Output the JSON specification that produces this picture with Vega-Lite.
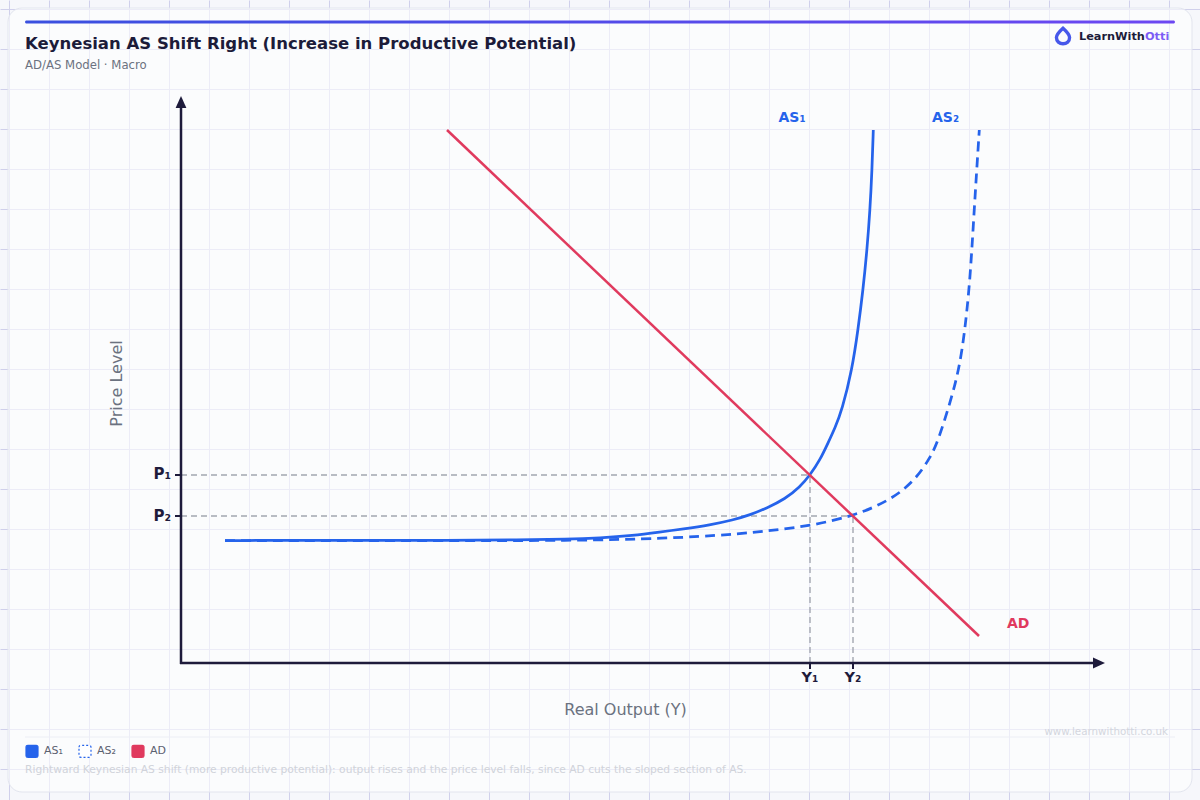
{
  "$schema": "https://vega.github.io/schema/vega-lite/v6.json",
  "width": 1200,
  "height": 800,
  "autosize": {"type": "none"},
  "padding": 0,
  "background": "#f6f7fb",
  "config": {
    "font": "DejaVu Sans",
    "view": {"stroke": null}
  },
  "encoding": {
    "x": {
      "field": "x",
      "type": "quantitative",
      "scale": {"domain": [-18.1, 101.9], "nice": false, "zero": false},
      "axis": {
        "values": [-17.2, -13.2, -9.2, -5.2, -1.2, 2.8, 6.8, 10.8, 14.8, 18.8, 22.8, 26.8, 30.8, 34.8, 38.8, 42.8, 46.8, 50.8, 54.8, 58.8, 62.8, 66.8, 70.8, 74.8, 78.8, 82.8, 86.8, 90.8, 94.8, 98.8],
        "grid": true, "gridColor": "#d0d0eb", "gridWidth": 1,
        "domain": false, "ticks": false, "labels": false, "title": null, "zindex": 0
      }
    },
    "y": {
      "field": "y",
      "type": "quantitative",
      "scale": {"domain": [-13.7, 66.3], "nice": false, "zero": false},
      "axis": {
        "values": [65.4, 61.4, 57.4, 53.4, 49.4, 45.4, 41.4, 37.4, 33.4, 29.4, 25.4, 21.4, 17.4, 13.4, 9.4, 5.4, 1.4, -2.6, -6.6, -10.6],
        "grid": true, "gridColor": "#d0d0eb", "gridWidth": 1,
        "domain": false, "ticks": false, "labels": false, "title": null, "zindex": 0
      }
    }
  },
  "layer": [
    {
      "data": {"values": [{"x": -17.3, "x2": 101.1, "y": 65.5, "y2": -12.9}]},
      "mark": {"type": "rect", "fill": "#ffffff", "fillOpacity": 0.6, "stroke": "#e2e5ee", "strokeWidth": 1, "cornerRadius": 14},
      "encoding": {"x2": {"field": "x2"}, "y2": {"field": "y2"}}
    },
    {
      "data": {"values": [{"x": -15.6, "x2": 99.4, "y": 64.25, "y2": 63.95}]},
      "mark": {
        "type": "rect",
        "cornerRadius": 1.5,
        "fill": {
          "gradient": "linear", "x1": 0, "y1": 0, "x2": 1, "y2": 0,
          "stops": [{"offset": 0, "color": "#3a50df"}, {"offset": 1, "color": "#6c47f2"}]
        }
      },
      "encoding": {"x2": {"field": "x2"}, "y2": {"field": "y2"}}
    },
    {
      "data": {"values": [{"x": -15.6, "x2": 99.4, "y": -7.4}]},
      "mark": {"type": "rule", "stroke": "#eceef5", "strokeWidth": 1},
      "encoding": {"x2": {"field": "x2"}}
    },
    {
      "data": {"values": [
        {"x": 0, "x2": 62.9, "y": 18.8, "y2": 18.8},
        {"x": 62.9, "x2": 62.9, "y": 0, "y2": 18.8},
        {"x": 0, "x2": 67.2, "y": 14.7, "y2": 14.7},
        {"x": 67.2, "x2": 67.2, "y": 0, "y2": 14.7}
      ]},
      "mark": {"type": "rule", "stroke": "#a3a7b0", "strokeWidth": 1.4, "strokeDash": [6, 4]},
      "encoding": {"x2": {"field": "x2"}, "y2": {"field": "y2"}}
    },
    {
      "data": {"values": [
        {"x": -0.1, "x2": 91.6, "y": 0, "y2": 0},
        {"x": 0, "x2": 0, "y": -0.1, "y2": 55.9}
      ]},
      "mark": {"type": "rule", "stroke": "#1e1b3b", "strokeWidth": 2.5},
      "encoding": {"x2": {"field": "x2"}, "y2": {"field": "y2"}}
    },
    {
      "data": {"values": [
        {"x": -0.6, "x2": 0, "y": 18.8, "y2": 18.8},
        {"x": -0.6, "x2": 0, "y": 14.7, "y2": 14.7},
        {"x": 62.9, "x2": 62.9, "y": 0, "y2": -0.6},
        {"x": 67.2, "x2": 67.2, "y": 0, "y2": -0.6}
      ]},
      "mark": {"type": "rule", "stroke": "#1e1b3b", "strokeWidth": 2},
      "encoding": {"x2": {"field": "x2"}, "y2": {"field": "y2"}}
    },
    {
      "data": {"values": [{"x": 91.8, "y": 0}]},
      "mark": {"type": "point", "shape": "M1,0L-1,-0.9L-1,0.9Z", "size": 144, "filled": true, "fill": "#1e1b3b", "opacity": 1}
    },
    {
      "data": {"values": [{"x": 0, "y": 56.1}]},
      "mark": {"type": "point", "shape": "M0,-1L0.9,1L-0.9,1Z", "size": 144, "filled": true, "fill": "#1e1b3b", "opacity": 1}
    },
    {
      "data": {"values": [
        {"series": "AS₂", "x": 4.4, "y": 12.25},
        {"series": "AS₂", "x": 26.9, "y": 12.24},
        {"series": "AS₂", "x": 38.6, "y": 12.23},
        {"series": "AS₂", "x": 48.6, "y": 12.45},
        {"series": "AS₂", "x": 55.2, "y": 12.85},
        {"series": "AS₂", "x": 58.6, "y": 13.2},
        {"series": "AS₂", "x": 62.9, "y": 13.7},
        {"series": "AS₂", "x": 67.2, "y": 14.7},
        {"series": "AS₂", "x": 70.6, "y": 16.1},
        {"series": "AS₂", "x": 73.2, "y": 18.0},
        {"series": "AS₂", "x": 75.0, "y": 20.6},
        {"series": "AS₂", "x": 75.8, "y": 22.5},
        {"series": "AS₂", "x": 76.9, "y": 26.0},
        {"series": "AS₂", "x": 77.8, "y": 29.3},
        {"series": "AS₂", "x": 78.4, "y": 33.3},
        {"series": "AS₂", "x": 78.9, "y": 38.3},
        {"series": "AS₂", "x": 79.22, "y": 43.6},
        {"series": "AS₂", "x": 79.57, "y": 49.3},
        {"series": "AS₂", "x": 79.83, "y": 53.3}
      ]},
      "mark": {"type": "line", "strokeWidth": 2.75, "strokeDash": [10, 6], "interpolate": "basis"},
      "encoding": {"color": {"field": "series", "type": "nominal"}}
    },
    {
      "data": {"values": [
        {"series": "AS₁", "x": 4.4, "y": 12.25},
        {"series": "AS₁", "x": 16.9, "y": 12.25},
        {"series": "AS₁", "x": 26.9, "y": 12.27},
        {"series": "AS₁", "x": 33.9, "y": 12.32},
        {"series": "AS₁", "x": 38.6, "y": 12.37},
        {"series": "AS₁", "x": 41.9, "y": 12.5},
        {"series": "AS₁", "x": 45.2, "y": 12.75},
        {"series": "AS₁", "x": 47.9, "y": 13.1},
        {"series": "AS₁", "x": 50.2, "y": 13.4},
        {"series": "AS₁", "x": 52.9, "y": 13.8},
        {"series": "AS₁", "x": 55.2, "y": 14.3},
        {"series": "AS₁", "x": 56.9, "y": 14.8},
        {"series": "AS₁", "x": 58.6, "y": 15.5},
        {"series": "AS₁", "x": 60.4, "y": 16.4},
        {"series": "AS₁", "x": 61.9, "y": 17.6},
        {"series": "AS₁", "x": 62.9, "y": 18.8},
        {"series": "AS₁", "x": 63.9, "y": 20.3},
        {"series": "AS₁", "x": 64.7, "y": 22.0},
        {"series": "AS₁", "x": 65.4, "y": 23.5},
        {"series": "AS₁", "x": 66.1, "y": 25.3},
        {"series": "AS₁", "x": 67.1, "y": 29.3},
        {"series": "AS₁", "x": 67.7, "y": 33.3},
        {"series": "AS₁", "x": 68.2, "y": 37.3},
        {"series": "AS₁", "x": 68.6, "y": 41.3},
        {"series": "AS₁", "x": 68.9, "y": 45.3},
        {"series": "AS₁", "x": 69.1, "y": 49.3},
        {"series": "AS₁", "x": 69.23, "y": 53.3}
      ]},
      "mark": {"type": "line", "strokeWidth": 2.75, "interpolate": "basis"},
      "encoding": {"color": {"field": "series", "type": "nominal"}}
    },
    {
      "data": {"values": [
        {"series": "AD", "x": 26.6, "y": 53.3},
        {"series": "AD", "x": 79.8, "y": 2.7}
      ]},
      "mark": {"type": "line", "strokeWidth": 2.5},
      "encoding": {
        "color": {
          "field": "series",
          "type": "nominal",
          "scale": {"domain": ["AS₁", "AS₂", "AD"], "range": ["#2563eb", "#2563eb", "#e03a5e"]},
          "legend": {
            "orient": "none",
            "legendX": 25,
            "legendY": 744,
            "direction": "horizontal",
            "title": null,
            "symbolType": "M-1,-0.67Q-1,-1,-0.67,-1L0.67,-1Q1,-1,1,-0.67L1,0.67Q1,1,0.67,1L-0.67,1Q-1,1,-1,0.67Z",
            "symbolSize": 144,
            "labelFontSize": 11,
            "labelColor": "#5b6170",
            "labelOffset": 5,
            "columnPadding": 13,
            "encode": {
              "symbols": {
                "update": {
                  "fill": {"signal": "datum.value === 'AS₂' ? '#ffffff' : (datum.value === 'AD' ? '#e03a5e' : '#2563eb')"},
                  "fillOpacity": {"value": 1},
                  "stroke": {"signal": "datum.value === 'AS₂' ? '#2563eb' : 'transparent'"},
                  "strokeWidth": {"value": 1.2},
                  "strokeDash": {"signal": "datum.value === 'AS₂' ? [2, 2] : [1, 0]"},
                  "opacity": {"value": 1}
                }
              }
            }
          }
        }
      }
    },
    {
      "data": {"values": [{"x": 88.2, "y": 62.7}]},
      "mark": {
        "type": "point",
        "shape": "M0,-1C0.5,-0.55,0.85,-0.2,0.85,0.2C0.85,0.7,0.45,1,0,1C-0.45,1,-0.85,0.7,-0.85,0.2C-0.85,-0.2,-0.5,-0.55,0,-1Z",
        "size": 240,
        "filled": false,
        "stroke": "#4758ea",
        "strokeWidth": 3.4,
        "opacity": 1
      }
    },
    {
      "data": {"values": [{"text": "Keynesian AS Shift Right (Increase in Productive Potential)", "x": -15.6, "y": 61.4}]},
      "mark": {"type": "text", "align": "left", "baseline": "alphabetic", "fontSize": 16.5, "fontWeight": "bold", "color": "#1c1b3a"},
      "encoding": {"text": {"field": "text"}}
    },
    {
      "data": {"values": [{"text": "AD/AS Model · Macro", "x": -15.6, "y": 59.4}]},
      "mark": {"type": "text", "align": "left", "baseline": "alphabetic", "fontSize": 11.7, "color": "#6b7280"},
      "encoding": {"text": {"field": "text"}}
    },
    {
      "data": {"values": [{"text": "LearnWith", "x": 89.8, "y": 62.3}]},
      "mark": {"type": "text", "align": "left", "baseline": "alphabetic", "fontSize": 11.3, "fontWeight": "bold", "color": "#1c1b3a"},
      "encoding": {"text": {"field": "text"}}
    },
    {
      "data": {"values": [{"text": "Otti", "x": 96.4, "y": 62.3}]},
      "mark": {"type": "text", "align": "left", "baseline": "alphabetic", "fontSize": 11.3, "fontWeight": "bold", "color": "#7c5cf5"},
      "encoding": {"text": {"field": "text"}}
    },
    {
      "data": {"values": [
        {"text": "AS₁", "x": 61.1, "y": 54.1},
        {"text": "AS₂", "x": 76.45, "y": 54.1}
      ]},
      "mark": {"type": "text", "align": "center", "baseline": "alphabetic", "fontSize": 14, "fontWeight": "bold", "color": "#2563eb"},
      "encoding": {"text": {"field": "text"}}
    },
    {
      "data": {"values": [{"text": "AD", "x": 82.6, "y": 3.53}]},
      "mark": {"type": "text", "align": "left", "baseline": "alphabetic", "fontSize": 14, "fontWeight": "bold", "color": "#e03a5e"},
      "encoding": {"text": {"field": "text"}}
    },
    {
      "data": {"values": [
        {"text": "P₁", "x": -1.0, "y": 18.9},
        {"text": "P₂", "x": -1.0, "y": 14.75}
      ]},
      "mark": {"type": "text", "align": "right", "baseline": "middle", "fontSize": 15, "fontWeight": "bold", "color": "#1e1b3b"},
      "encoding": {"text": {"field": "text"}}
    },
    {
      "data": {"values": [
        {"text": "Y₁", "x": 62.9, "y": -1.5},
        {"text": "Y₂", "x": 67.2, "y": -1.5}
      ]},
      "mark": {"type": "text", "align": "center", "baseline": "middle", "fontSize": 14.5, "fontWeight": "bold", "color": "#1e1b3b"},
      "encoding": {"text": {"field": "text"}}
    },
    {
      "data": {"values": [{"text": "Price Level", "x": -6.4, "y": 27.95}]},
      "mark": {"type": "text", "align": "center", "baseline": "middle", "angle": 270, "fontSize": 16, "color": "#6b7280"},
      "encoding": {"text": {"field": "text"}}
    },
    {
      "data": {"values": [{"text": "Real Output (Y)", "x": 44.45, "y": -4.7}]},
      "mark": {"type": "text", "align": "center", "baseline": "middle", "fontSize": 16, "color": "#6b7280"},
      "encoding": {"text": {"field": "text"}}
    },
    {
      "data": {"values": [{"text": "www.learnwithotti.co.uk", "x": 98.7, "y": -6.85}]},
      "mark": {"type": "text", "align": "right", "baseline": "middle", "fontSize": 10.3, "color": "#d3d6de"},
      "encoding": {"text": {"field": "text"}}
    },
    {
      "data": {"values": [{"text": "Rightward Keynesian AS shift (more productive potential): output rises and the price level falls, since AD cuts the sloped section of AS.", "x": -15.6, "y": -11.0}]},
      "mark": {"type": "text", "align": "left", "baseline": "alphabetic", "fontSize": 10.7, "color": "#d0d3da"},
      "encoding": {"text": {"field": "text"}}
    }
  ]
}
